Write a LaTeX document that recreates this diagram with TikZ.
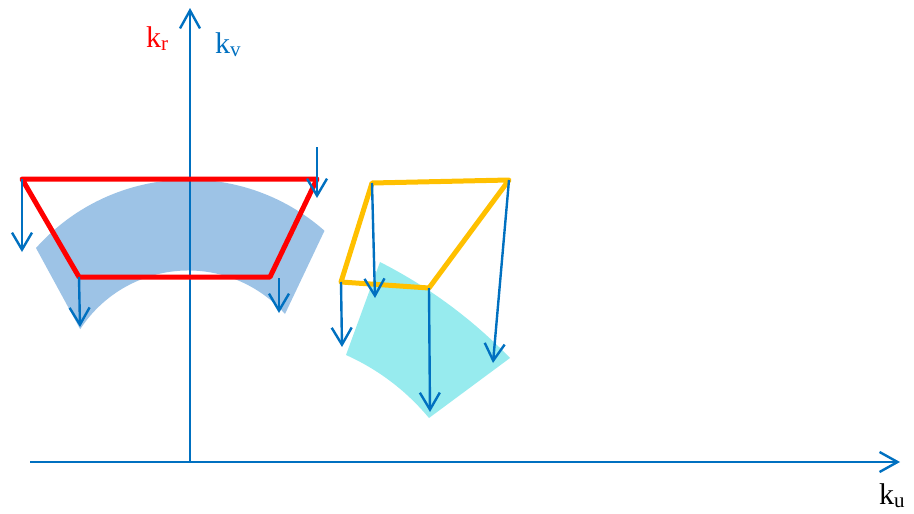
\documentclass[tikz,border=0pt]{standalone}
\usepackage{fontspec}
\setmainfont{Liberation Serif}
\usetikzlibrary{arrows.meta}
\definecolor{axblue}{HTML}{0070C0}
\definecolor{bandblue}{HTML}{9DC3E6}
\definecolor{cyanfill}{HTML}{97EBEE}
\definecolor{gold}{HTML}{FFC000}
\begin{document}
\begin{tikzpicture}[x=1pt,y=-1pt,
 axis/.style={axblue, line width=2.4pt, -{Straight Barb[length=18pt,width=20pt]}},
 proj/.style={axblue, line width=2.4pt, -{Straight Barb[length=17pt,width=20pt]}},
 redpoly/.style={red, line width=5pt, line join=round},
 goldpoly/.style={gold, line width=5pt, line join=round},
 lab/.style={anchor=base west, inner sep=0pt, font=\fontsize{30}{34}\selectfont}]
\useasboundingbox (0,0) rectangle (914,514);
% shaded regions
\fill[bandblue] (36,248) arc[start angle=138.25,end angle=48.6,radius=205pt] -- (285,314) arc[start angle=41.5,end angle=147,radius=129pt] -- cycle;
\fill[cyanfill] (380,262) .. controls (428.6,286.8) and (472,318.8) .. (510,358) -- (429,418) .. controls (406.1,390.6) and (378.5,369.6) .. (346,355) -- cycle;
% axes
\coordinate (O) at (190,462);
\coordinate (ytop) at (190,8);
\coordinate (xl) at (30,462);
\coordinate (xr) at (900,462);
\draw[axis] (O) -- (ytop);
\draw[axis] (xl) -- (xr);
% red trapezoid
\coordinate (r1) at (22,179);
\coordinate (r2) at (317,179);
\coordinate (r3) at (270,277);
\coordinate (r4) at (79,277);
\draw[redpoly] (r1) -- (r2) -- (r3) -- (r4) -- cycle;
% gold quadrilateral
\coordinate (g1) at (372,183);
\coordinate (g2) at (509,180);
\coordinate (g3) at (429,288);
\coordinate (g4) at (341,282);
\draw[goldpoly] (g1) -- (g2) -- (g3) -- (g4) -- cycle;
% projection arrows
\coordinate (p1) at (22,252);
\coordinate (s2) at (317,147);
\coordinate (p2) at (317,198);
\coordinate (s3) at (279,278);
\coordinate (p3) at (279,313);
\coordinate (p4) at (80,327);
\draw[proj] (r1) -- (p1);
\draw[proj] (s2) -- (p2);
\draw[proj] (s3) -- (p3);
\draw[proj] (r4) -- (p4);
\coordinate (h1) at (375,298);
\coordinate (h2) at (493,363);
\coordinate (h3) at (430,412);
\coordinate (h4) at (342,347);
\draw[proj] (g1) -- (h1);
\draw[proj] (g2) -- (h2);
\draw[proj] (g3) -- (h3);
\draw[proj] (g4) -- (h4);
% labels
\node[lab, red] (kr) at (146,47) {k\textsubscript{r}};
\node[lab, axblue] (kv) at (215,53) {k\textsubscript{v}};
\node[lab, black] (ku) at (879,504) {k\textsubscript{u}};
\end{tikzpicture}
\end{document}
